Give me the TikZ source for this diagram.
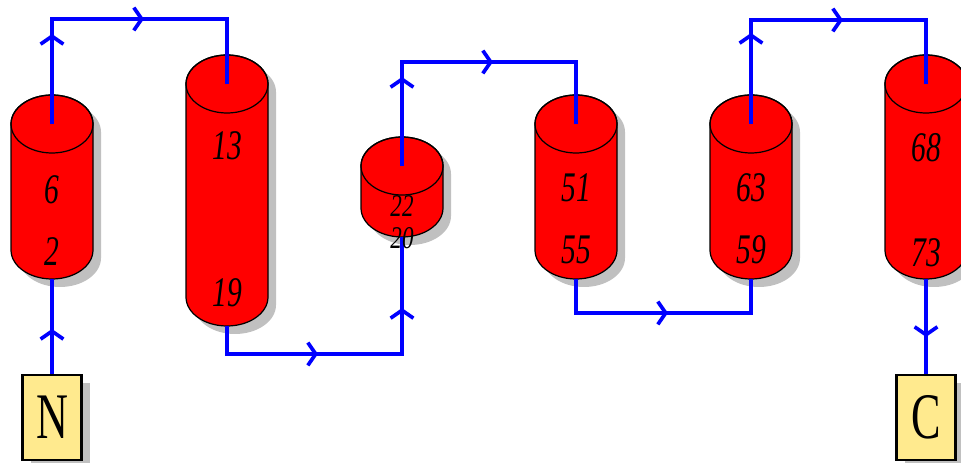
\documentclass[tikz,border=0pt]{standalone}
\usepackage{fontspec}
\setmainfont{Liberation Serif}
\usetikzlibrary{arrows.meta,decorations.markings}
\definecolor{cylred}{RGB}{255,0,0}
\definecolor{shad}{RGB}{192,192,192}
\definecolor{boxyel}{RGB}{255,234,142}
\definecolor{flowblue}{RGB}{0,0,255}
% name, cx, topY, botY, rx, ry
\newcommand\mycyl[6]{%
  \fill[shad] (#2-#5+8,#3-8) -- (#2-#5+8,#4-8)
    arc[start angle=180,end angle=360,x radius=#5,y radius=#6]
    -- (#2+#5+8,#3-8)
    arc[start angle=0,end angle=180,x radius=#5,y radius=#6] -- cycle;
  \filldraw[fill=cylred,draw=black,line width=0.7pt] (#2-#5,#3) -- (#2-#5,#4)
    arc[start angle=180,end angle=360,x radius=#5,y radius=#6]
    -- (#2+#5,#3)
    arc[start angle=0,end angle=180,x radius=#5,y radius=#6] -- cycle;
  \draw[black,line width=0.7pt] (#2,#3) ellipse[x radius=#5,y radius=#6];
  \coordinate (#1t) at (#2,#3);
  \coordinate (#1b) at (#2,#4-#6);
}
\newcommand\numlbl[1]{\scalebox{0.7}[1]{\fontsize{24}{24}\selectfont\itshape #1}}
\newcommand\smlbl[1]{\scalebox{0.73}[1]{\fontsize{18}{18}\selectfont\itshape #1}}
\newcommand\boxlbl[1]{\scalebox{0.68}[1]{\fontsize{37}{37}\selectfont #1}}
\begin{document}
\begin{tikzpicture}[x=0.02cm,y=0.02cm,
  flow/.style={draw=flowblue,line width=2.3pt},
  chev/.style={postaction={decorate,decoration={markings,
      mark=at position #1 with {\arrow[flowblue,line width=2.1pt]{Straight Barb[length=4.5pt,width=13pt]}}}}},
  termbox/.style={draw=black,line width=1.2pt,fill=boxyel,minimum width=59*0.02cm,minimum height=85*0.02cm,inner sep=0pt},
  termshadow/.style={fill=shad,minimum width=59*0.02cm,minimum height=85*0.02cm,inner sep=0pt},
  lbl/.style={inner sep=0pt}]
\useasboundingbox (0,0) rectangle (961,463);
% cylinders
\mycyl{c1}{52}{339}{213}{41}{29}
\mycyl{c2}{227}{379}{166}{41}{29}
\mycyl{c3}{402}{297}{255}{41}{29}
\mycyl{c4}{576}{339}{213}{41}{29}
\mycyl{c5}{751}{339}{213}{41}{29}
\mycyl{c6}{926}{379}{213}{41}{29}
% terminal boxes
\node[termshadow] (Ns) at (60,37.5) {};
\node[termshadow] (Cs) at (934,37.5) {};
\node[termbox] (N) at (52,45.5) {\boxlbl{N}};
\node[termbox] (C) at (926,45.5) {\boxlbl{C}};
% flow lines
\draw[flow,chev=0.9cm] (N.north) -- (c1b);
\draw[flow,chev=1.8cm,chev=3.94cm] (c1t) |- (227,444) coordinate (a1) -- (c2t);
\draw[flow,chev=2.38cm,chev=4.98cm] (c2b) -- (227,109) coordinate (b1) -- (402,109) coordinate (b2) -- (c3b);
\draw[flow,chev=1.78cm,chev=3.9cm] (c3t) -- (402,401) coordinate (d1) -- (576,401) coordinate (d2) -- (c4t);
\draw[flow,chev=2.52cm] (c4b) -- (576,150) coordinate (e1) -- (751,150) coordinate (e2) -- (c5b);
\draw[flow,chev=1.82cm,chev=3.92cm] (c5t) -- (751,443) coordinate (f1) -- (926,443) coordinate (f2) -- (c6t);
\draw[flow,chev=1.16cm] (c6b) -- (C.north);
% labels
\node[lbl] (l1a) at (52,273) {\numlbl{6}};
\node[lbl] (l1b) at (52,211) {\numlbl{2}};
\node[lbl] (l2a) at (227,317) {\numlbl{13}};
\node[lbl] (l2b) at (227,170) {\numlbl{19}};
\node[lbl] (l3a) at (402,257) {\smlbl{22}};
\node[lbl] (l3b) at (402,225) {\smlbl{20}};
\node[lbl] (l4a) at (576,275) {\numlbl{51}};
\node[lbl] (l4b) at (576,213) {\numlbl{55}};
\node[lbl] (l5a) at (751,275) {\numlbl{63}};
\node[lbl] (l5b) at (751,213) {\numlbl{59}};
\node[lbl] (l6a) at (926,315) {\numlbl{68}};
\node[lbl] (l6b) at (926,210) {\numlbl{73}};
\end{tikzpicture}
\end{document}
